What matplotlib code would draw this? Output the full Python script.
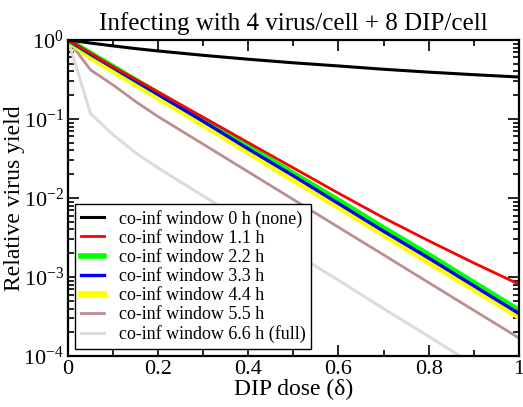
import matplotlib
matplotlib.use('Agg')
from matplotlib import pyplot as plt
from matplotlib.ticker import LogLocator, NullFormatter

plt.rcParams['font.family'] = 'Liberation Serif'
plt.rcParams['mathtext.fontset'] = 'custom'
plt.rcParams['mathtext.rm'] = 'Liberation Serif'
plt.rcParams['mathtext.it'] = 'Liberation Serif:italic'

# DIP dose
dose = [0, 0.05, 0.1, 0.15, 0.2, 0.3, 0.4, 0.5, 0.6, 0.7, 0.8, 0.9, 1.0]

# relative virus yield per co-infection window
win_0 = [1, 0.912, 0.839, 0.776, 0.724, 0.638, 0.569, 0.513, 0.468, 0.425, 0.391, 0.363, 0.339]
win_1_1 = [1, 0.676, 0.457, 0.316, 0.219, 0.105, 0.0501, 0.0240, 0.0115, 5.62e-3, 2.88e-3, 1.51e-3, 8.13e-4]
win_2_2 = [1, 0.676, 0.457, 0.309, 0.211, 0.0977, 0.0447, 0.0204, 9.33e-3, 4.17e-3, 1.91e-3, 8.51e-4, 3.80e-4]
win_3_3 = [1, 0.661, 0.447, 0.302, 0.204, 0.0933, 0.0417, 0.0191, 8.51e-3, 3.80e-3, 1.74e-3, 7.76e-4, 3.47e-4]
win_4_4 = [1, 0.603, 0.407, 0.275, 0.186, 0.0851, 0.0380, 0.0170, 7.76e-3, 3.47e-3, 1.55e-3, 7.08e-4, 3.16e-4]
win_5_5 = [1, 0.417, 0.269, 0.166, 0.107, 0.0479, 0.0214, 9.55e-3, 4.27e-3, 1.91e-3, 8.51e-4, 3.80e-4, 1.70e-4]
win_6_6 = [1, 0.117, 0.0631, 0.0372, 0.0240, 0.0106, 4.68e-3, 2.04e-3, 9.12e-4, 3.98e-4, 1.78e-4, 7.76e-5, 3.47e-5]

labels = ['co-inf window 0 h (none)', 'co-inf window 1.1 h', 'co-inf window 2.2 h',
          'co-inf window 3.3 h', 'co-inf window 4.4 h', 'co-inf window 5.5 h',
          'co-inf window 6.6 h (full)']
series = [win_0, win_1_1, win_2_2, win_3_3, win_4_4, win_5_5, win_6_6]
colors = ['black', '#ff0000', '#00ff00', '#0000ff', '#ffff00', '#bc8f8f', '#dcdcdc']
widths = [2.2, 2.0, 4.0, 2.4, 4.5, 2.0, 2.2]
zorders = [3, 2.5, 2.2, 2.4, 2.1, 2, 2]

xticks = [0, 0.2, 0.4, 0.6, 0.8, 1.0]
xticklabels = ['0', '0.2', '0.4', '0.6', '0.8', '1']

fig = plt.figure(figsize=(5.23, 4.07), dpi=100)
ax = fig.add_axes([0.130, 0.125, 0.862, 0.777])

for y, lab, c, w, z in zip(series, labels, colors, widths, zorders):
    ax.plot(dose, y, color=c, lw=w, label=lab, zorder=z)

ax.set_yscale('log')
ax.set_xlim(0, 1)
ax.set_ylim(1e-4, 1)
ax.set_xticks(xticks)
ax.set_xticklabels(xticklabels)
ax.set_xticks([0.1, 0.3, 0.5, 0.7, 0.9], minor=True)
ax.yaxis.set_major_locator(LogLocator(base=10, numticks=10))
ax.yaxis.set_minor_locator(LogLocator(base=10, subs=range(2, 10), numticks=10))
ax.yaxis.set_minor_formatter(NullFormatter())
ax.tick_params(which='both', direction='in', top=True, right=True, labelsize=16, width=1.2)
ax.tick_params(which='major', length=8)
ax.tick_params(which='minor', length=4)
ax.tick_params(axis='x', pad=3)
ax.tick_params(axis='y', pad=3)
for s in ax.spines.values():
    s.set_linewidth(1.6)

ax.set_xlabel('DIP dose (δ)', fontsize=17, labelpad=0)
ax.set_ylabel('Relative virus yield', fontsize=17, labelpad=-1)
ax.set_title('Infecting with 4 virus/cell + 8 DIP/cell', fontsize=18, pad=7)

leg = ax.legend(loc='lower left', fontsize=13, frameon=True, fancybox=False,
                edgecolor='black', framealpha=1, handlelength=1.3, handletextpad=0.8,
                labelspacing=0.12, borderpad=0.3, borderaxespad=0.4)
leg.get_frame().set_linewidth(1.0)

plt.savefig('out.png', dpi=100)
print('done')
